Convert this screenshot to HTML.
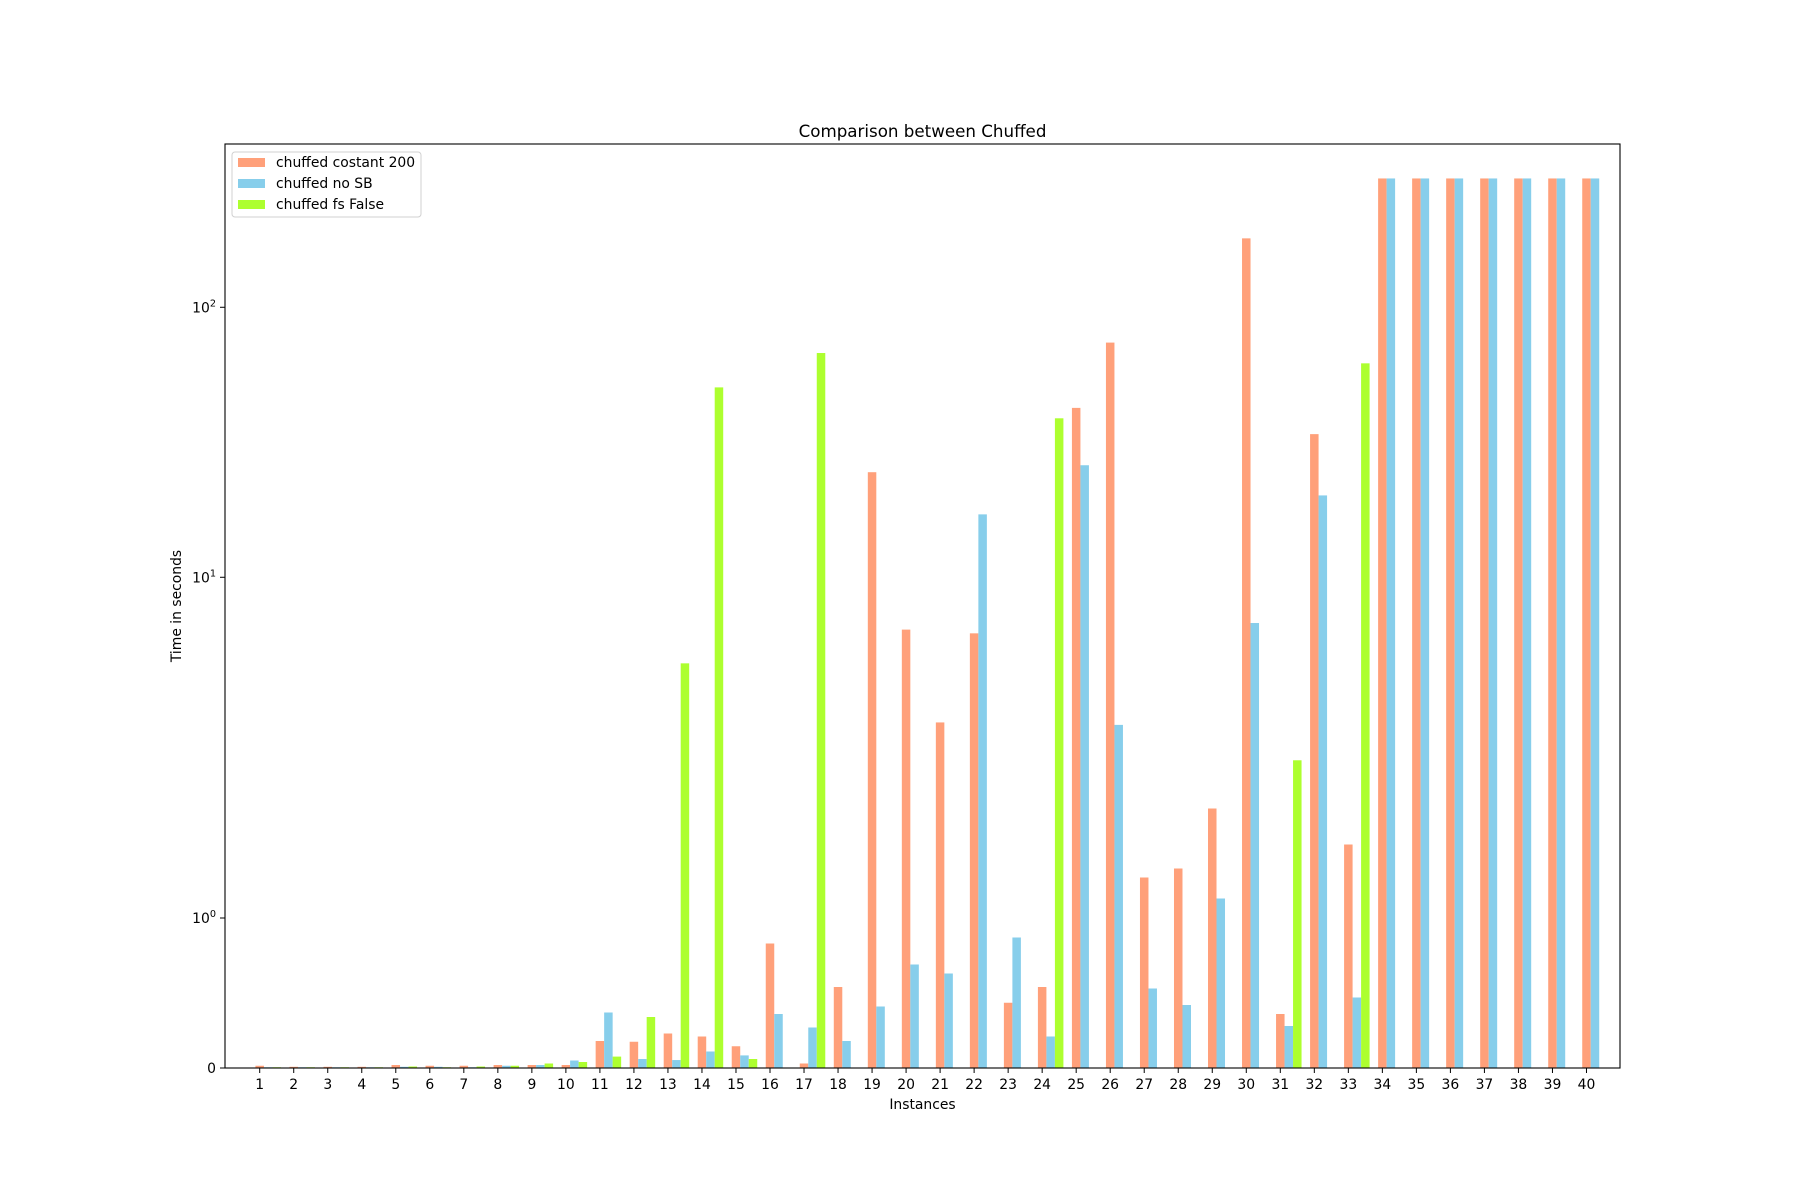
<!DOCTYPE html>
<html><head><meta charset="utf-8"><style>
html,body{margin:0;padding:0;background:#fff}
svg{display:block;font-family:"DejaVu Sans","Liberation Sans",sans-serif}
</style></head><body>
<svg id="chart" width="1800" height="1200" viewBox="0 0 1800 1200" xmlns="http://www.w3.org/2000/svg">
<rect x="0" y="0" width="1800" height="1200" fill="#fff"/>
<text x="922.5" y="137" font-size="16.7" text-anchor="middle" fill="#000">Comparison between Chuffed</text>
<text x="922.5" y="1109" font-size="13.9" text-anchor="middle" fill="#000">Instances</text>
<text x="0" y="0" font-size="13.9" text-anchor="middle" fill="#000" transform="translate(181,606) rotate(-90)">Time in seconds</text>
<g id="bars"></g>
<g id="xticks"></g>
<g id="yticks"></g>
<rect x="225" y="144" width="1395" height="924" fill="none" stroke="#000" stroke-width="1.1"/>
<g>
<rect x="232" y="152" width="189" height="65" rx="3" fill="#fff" fill-opacity="0.8" stroke="#d0d0d0"/>
<rect x="238" y="158" width="27" height="9" fill="#FFA07A"/>
<text x="276" y="167" font-size="13.9" fill="#000">chuffed costant 200</text>
<rect x="238" y="179" width="27" height="9" fill="#87CEEB"/>
<text x="276" y="188" font-size="13.9" fill="#000">chuffed no SB</text>
<rect x="238" y="200" width="27" height="9" fill="#ADFF2F"/>
<text x="276" y="209" font-size="13.9" fill="#000">chuffed fs False</text>
</g>
</svg>
<script>
const categories = ["1","2","3","4","5","6","7","8","9","10","11","12","13","14","15","16","17","18","19","20","21","22","23","24","25","26","27","28","29","30","31","32","33","34","35","36","37","38","39","40"];
const constant200 = [0.015,0.008,0.008,0.008,0.02,0.015,0.015,0.02,0.02,0.02,0.18,0.175,0.23,0.21,0.145,0.83,0.03,0.54,24.5,6.4,2.9,6.2,0.435,0.54,42.4,74,1.27,1.33,1.73,180,0.36,33.9,1.49,300,300,300,300,300,300,300];
const noSB = [0.005,0.005,0.005,0.005,0.008,0.008,0.005,0.015,0.02,0.05,0.37,0.06,0.053,0.11,0.084,0.36,0.27,0.18,0.41,0.69,0.63,17.1,0.87,0.21,26,2.84,0.53,0.42,1.13,6.77,0.28,20.1,0.47,300,300,300,300,300,300,300];
const fsFalse = [0.005,0.005,0.005,0.005,0.01,0.005,0.01,0.015,0.03,0.04,0.076,0.34,4.8,50.5,0.06,0,67.7,0,0,0,0,0,0,38.8,0,0,0,0,0,0,2.1,0,62,0,0,0,0,0,0,0];
const yTickValues = [0,1,10,100];
const yTickLabels = ["0","10","10","10"];
const yTickExps = ["","0","1","2"];

const NS="http://www.w3.org/2000/svg";
function xPos(i){return 259.7+34.02*i;}
function yPos(v){ if(v<=2) return 1068-150*v; return 766-270*Math.log10(v/2); }
const BW=8.5;
const series=[[constant200,"#FFA07A","constant-200"],[noSB,"#87CEEB","no-sb"],[fsFalse,"#ADFF2F","fs-false"]];
const bars=document.getElementById('bars');
series.forEach((s,si)=>{
  s[0].forEach((v,i)=>{
    const cx=xPos(i)+si*BW;
    const r=document.createElementNS(NS,'rect');
    const yt=yPos(v);
    r.setAttribute('x',cx-BW/2);
    r.setAttribute('y',yt);
    r.setAttribute('width',BW);
    r.setAttribute('height',Math.max(0,1068-yt));
    r.setAttribute('fill',s[1]);
    
    
    bars.appendChild(r);
  });
});
const xt=document.getElementById('xticks');
categories.forEach((c,i)=>{
  const x=xPos(i);
  const l=document.createElementNS(NS,'line');
  l.setAttribute('x1',x);l.setAttribute('x2',x);l.setAttribute('y1',1068);l.setAttribute('y2',1073);
  l.setAttribute('stroke','#000');
  
  
  xt.appendChild(l);
  const t=document.createElementNS(NS,'text');
  t.setAttribute('x',x);t.setAttribute('y',1089);t.setAttribute('font-size','13.9');t.setAttribute('text-anchor','middle');
  t.textContent=c;
  
  
  xt.appendChild(t);
});
const yt=document.getElementById('yticks');
yTickValues.forEach((v,i)=>{
  const y=yPos(v);
  const l=document.createElementNS(NS,'line');
  l.setAttribute('x1',220);l.setAttribute('x2',225);l.setAttribute('y1',y);l.setAttribute('y2',y);
  l.setAttribute('stroke','#000');
  
  
  yt.appendChild(l);
  const t=document.createElementNS(NS,'text');
  t.setAttribute('y',y+5);t.setAttribute('font-size','13.9');t.setAttribute('text-anchor','end');
  
  
  t.setAttribute('x',216);
  if(yTickExps[i]===""){
    t.textContent=yTickLabels[i];
  } else {
    const a=document.createElementNS(NS,'tspan');a.textContent=yTickLabels[i];
    const b=document.createElementNS(NS,'tspan');b.textContent=yTickExps[i];
    b.setAttribute('font-size','9.7');b.setAttribute('dy','-6');
    t.appendChild(a);t.appendChild(b);
  }
  yt.appendChild(t);
});
</script>
</body></html>
